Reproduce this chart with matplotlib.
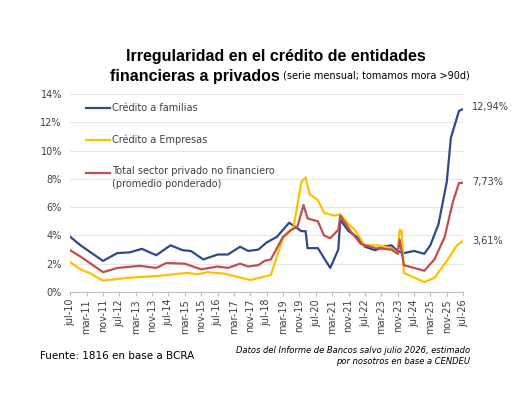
import matplotlib
matplotlib.use("Agg")
import matplotlib.pyplot as plt
import pandas as pd

start = pd.Timestamp("2010-07-01")
def dates(offsets):
    return [start + pd.DateOffset(months=m) for m in offsets]

fam_m = [0,5,11,16,23,29,35,42,49,55,59,65,72,77,83,87,92,96,101,107,109,113,115,116,121,127,131,132,136,141,144,149,153,157,160,163,168,173,176,180,184,186,190,192]
fam_v = [3.9,3.3,2.7,2.2,2.75,2.8,3.05,2.6,3.3,2.95,2.9,2.3,2.65,2.65,3.2,2.9,3.0,3.5,3.9,4.9,4.7,4.3,4.3,3.1,3.1,1.7,3.0,5.1,4.3,3.8,3.2,2.95,3.2,3.3,2.9,2.75,2.9,2.7,3.3,4.8,7.8,10.9,12.8,12.94]
emp_m = [0,5,10,16,28,44,57,62,67,75,88,98,104,109,113,115,117,121,124,129,132,136,139,144,150,157,160,161,162,163,173,178,184,189,192]
emp_v = [2.1,1.6,1.3,0.8,1.0,1.15,1.35,1.25,1.4,1.3,0.85,1.2,3.8,4.5,7.8,8.1,6.9,6.5,5.6,5.4,5.5,4.8,4.4,3.3,3.3,3.1,2.7,4.4,4.3,1.35,0.7,1.0,2.2,3.3,3.61]
tot_m = [0,5,16,23,34,42,47,56,64,72,77,83,87,92,95,98,104,108,111,114,116,121,124,127,131,132,137,142,149,157,160,161,163,173,178,183,187,190,192]
tot_v = [2.95,2.5,1.4,1.7,1.85,1.7,2.05,2.0,1.6,1.8,1.7,2.0,1.8,1.9,2.2,2.3,3.9,4.4,4.6,6.15,5.2,5.0,4.0,3.8,4.4,5.4,4.3,3.4,3.1,3.0,2.7,3.7,1.9,1.5,2.3,3.9,6.4,7.7,7.73]

c_fam, c_emp, c_tot = "#2F4A8A", "#FFC000", "#C0504D"

fig = plt.figure(figsize=(5.28, 4.07), dpi=100)
ax = fig.add_axes([0.133, 0.2826, 0.744, 0.4864])
ax.plot(dates(fam_m), fam_v, color=c_fam, lw=1.6)
ax.plot(dates(emp_m), emp_v, color=c_emp, lw=1.6)
ax.plot(dates(tot_m), tot_v, color=c_tot, lw=1.6)

ticks = [start + pd.DateOffset(months=8*i) for i in range(25)]
mon = {1:"ene",2:"feb",3:"mar",4:"abr",5:"may",6:"jun",7:"jul",8:"ago",9:"sep",10:"oct",11:"nov",12:"dic"}
ax.set_xticks(ticks)
ax.set_xticklabels([f"{mon[t.month]}-{t.year%100:02d}" for t in ticks], rotation=90, fontsize=7, color="#404040")
ax.set_xlim(start, start + pd.DateOffset(months=192))
ax.set_ylim(0, 14)
ax.set_yticks(range(0, 15, 2))
ax.set_yticklabels([f"{v}%" for v in range(0, 15, 2)], fontsize=7, color="#404040")
ax.grid(axis="y", color="#E6E6E6", lw=0.8)
ax.set_axisbelow(True)
for s in ["top", "right", "left"]:
    ax.spines[s].set_visible(False)
ax.spines["bottom"].set_color("#BFBFBF")
ax.tick_params(axis="y", length=0, pad=6)
ax.tick_params(axis="x", length=3, color="#BFBFBF", pad=2)

fx = lambda px: px / 528
fy = lambda py: 1 - py / 407
for yy, col in [(108, c_fam), (140, c_emp), (173, c_tot)]:
    fig.add_artist(plt.Line2D([fx(86), fx(110)], [fy(yy), fy(yy)], color=col, lw=1.6))
fig.text(fx(112), fy(108), "Crédito a familias", fontsize=7, color="#404040", va="center")
fig.text(fx(112), fy(140), "Crédito a Empresas", fontsize=7, color="#404040", va="center")
fig.text(fx(112), fy(166), "Total sector privado no financiero\n(promedio ponderado)", fontsize=7,
         color="#404040", va="top", linespacing=1.35)

fig.text(fx(472), fy(107), "12,94%", fontsize=7, color="#404040", va="center")
fig.text(fx(472), fy(182), "7,73%", fontsize=7, color="#404040", va="center")
fig.text(fx(472), fy(241), "3,61%", fontsize=7, color="#404040", va="center")

fig.text(fx(276), fy(57), "Irregularidad en el crédito de entidades", fontsize=11.5, fontweight="bold",
         ha="center", va="center", color="black", family="Liberation Sans")
t = fig.text(fx(110), fy(76), "financieras a privados", fontsize=11.5, fontweight="bold", va="center",
             family="Liberation Sans")
fig.canvas.draw()
bb = t.get_window_extent()
fig.text(bb.x1 / fig.dpi / 5.28 + 0.006, fy(76), "(serie mensual; tomamos mora >90d)", fontsize=7,
         va="center")

fig.text(fx(40), fy(356), "Fuente: 1816 en base a BCRA", fontsize=7.5, va="center")
fig.text(fx(470), fy(356), "Datos del Informe de Bancos salvo julio 2026, estimado\npor nosotros en base a CENDEU",
         fontsize=6, style="italic", ha="right", va="center", linespacing=1.3)

fig.savefig("out.png", dpi=100)
